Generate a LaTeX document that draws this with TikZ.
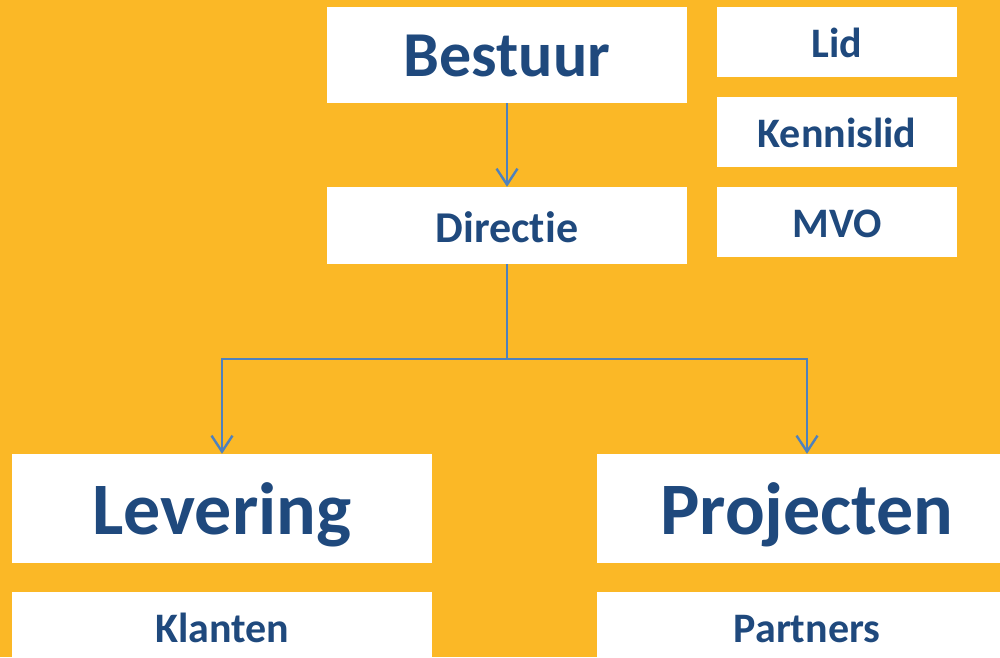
\documentclass[tikz,border=0pt]{standalone}
\usepackage{fontspec}
\setmainfont{Carlito}[Ligatures={NoCommon,NoRare,NoDiscretionary}]
\usetikzlibrary{arrows.meta}
\definecolor{bg}{HTML}{FBB826}
\definecolor{txt}{HTML}{1F497D}
\definecolor{ln}{HTML}{4F81BD}
\tikzset{
  box/.style={fill=white, draw=none, inner sep=0pt, text=txt, align=center},
  fs/.style={font=\fontsize{#1}{#1}\selectfont\bfseries},
  conn/.style={draw=ln, line width=2.4pt},
  arr/.style={conn, -{Straight Barb[length=16pt,width=21pt,line width=2.4pt]}},
}
\begin{document}
\begin{tikzpicture}[x=1pt,y=-1pt]
\fill[bg] (0,0) rectangle (1000,657);
\useasboundingbox (0,0) rectangle (1000,657);
\node[box, fs=64, minimum width=360pt, minimum height=96pt, text height=42pt, text depth=0pt] (bestuur) at (507,55) {Bestuur};
\node[box, fs=44, minimum width=360pt, minimum height=77pt, text height=33pt, text depth=0pt] (directie) at (507,225.5) {Directie};
\node[box, fs=42, minimum width=240pt, minimum height=70pt, text height=30pt, text depth=0pt] (lid) at (837,42) {Lid};
\node[box, fs=42, minimum width=240pt, minimum height=70pt, text height=30pt, text depth=0pt] (kennislid) at (837,132) {Kennislid};
\node[box, fs=42, minimum width=240pt, minimum height=70pt, text height=30pt, text depth=0pt] (mvo) at (837,222) {MVO};
\node[box, fs=74, minimum width=420pt, minimum height=109pt, text height=51pt, text depth=0pt] (levering) at (222,508.5) {Levering};
\node[box, fs=74, minimum width=420pt, minimum height=109pt, text height=51pt, text depth=0pt] (projecten) at (807,508.5) {Projecten};
\node[box, fs=42, minimum width=420pt, minimum height=70pt, text height=30pt, text depth=0pt] (klanten) at (222,627) {Klanten};
\node[box, fs=42, minimum width=420pt, minimum height=70pt, text height=30pt, text depth=0pt] (partners) at (807,627) {Partners};
\coordinate (split) at (507,359);
\draw[arr] (bestuur) -- (directie);
\draw[conn] (directie.south) -- (split);
\draw[arr] (split) -| (levering.north);
\draw[arr] (split) -| (projecten.north);
\end{tikzpicture}
\end{document}
